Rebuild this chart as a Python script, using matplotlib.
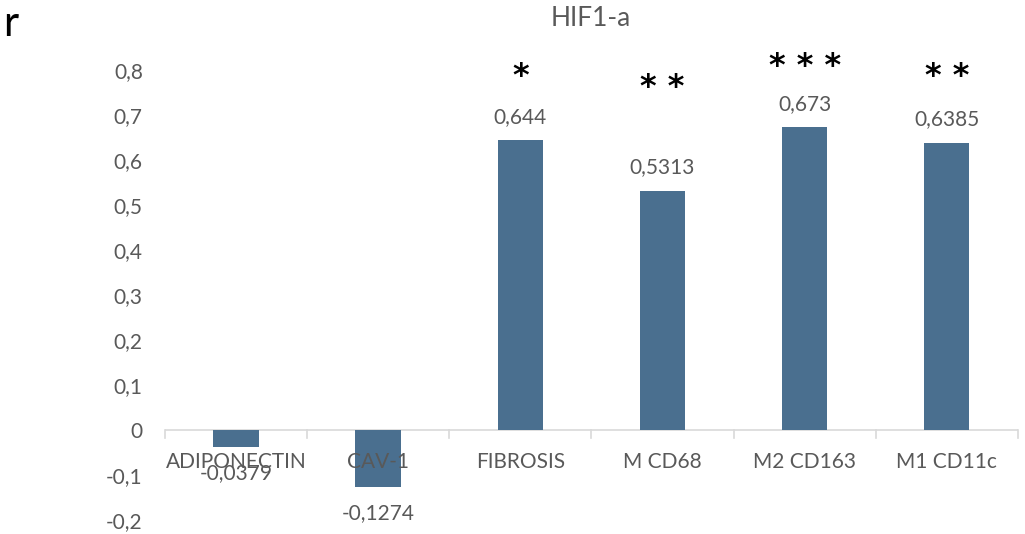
import matplotlib.pyplot as plt
from matplotlib.ticker import FuncFormatter

categories = ["ADIPONECTIN", "CAV-1", "FIBROSIS", "M CD68", "M2 CD163", "M1 CD11c"]
values = [-0.0379, -0.1274, 0.644, 0.5313, 0.673, 0.6385]
value_labels = ["-0,0379", "-0,1274", "0,644", "0,5313", "0,673", "0,6385"]
stars = ["", "", "*", "**", "***", "**"]
star_heights = [0, 0, 0.785, 0.762, 0.808, 0.785]

barColor = "#4A6F8F"
textColor = "#595959"
plt.rcParams['font.family'] = ['Lato', 'DejaVu Sans']

fig = plt.figure(figsize=(10.25, 5.34), dpi=100)
ax = fig.add_axes([0.161, 0.026, 0.832, 0.843])

x = list(range(len(categories)))
ax.bar(x, values, width=0.32, color=barColor, zorder=2)
ax.set_xlim(-0.5, len(categories) - 0.5)
ax.set_ylim(-0.2, 0.8)
ax.set_yticks([i / 10 for i in range(-2, 9)])
ax.yaxis.set_major_formatter(FuncFormatter(
    lambda v, p: "0" if abs(v) < 1e-9 else ("%.1f" % v).replace(".", ",")))
ax.tick_params(axis='y', length=0, labelsize=15, labelcolor=textColor, pad=16)

for s in ax.spines.values():
    s.set_visible(False)
ax.set_xticks([])

# category axis at zero with separator ticks
ax.axhline(0, color="#D9D9D9", lw=1.2, zorder=1)
for b in range(len(categories) + 1):
    ax.plot([b - 0.5, b - 0.5], [0, -0.018], color="#D9D9D9", lw=1.2,
            clip_on=False)
for i, c in enumerate(categories):
    ax.text(i, -0.072, c, ha='center', va='center', fontsize=15,
            color=textColor)

# value labels
for i, v in enumerate(values):
    if v >= 0:
        ax.text(i, v + 0.052, value_labels[i], ha='center', va='center',
                fontsize=15, color=textColor)
    else:
        ax.text(i, v - 0.057, value_labels[i], ha='center', va='center',
                fontsize=15, color=textColor)

# significance stars
for i, s in enumerate(stars):
    if s:
        ax.text(i, star_heights[i], " ".join(s), ha='center', va='center',
                fontsize=23, color='black', family='DejaVu Sans',
                fontweight='bold')

fig.text(0.576, 0.966, "HIF1-a", ha='center', va='center', fontsize=19,
         color=textColor)
fig.text(0.003, 0.955, "r", ha='left', va='center', fontsize=30, color='black')

fig.savefig("out.png", dpi=100)
